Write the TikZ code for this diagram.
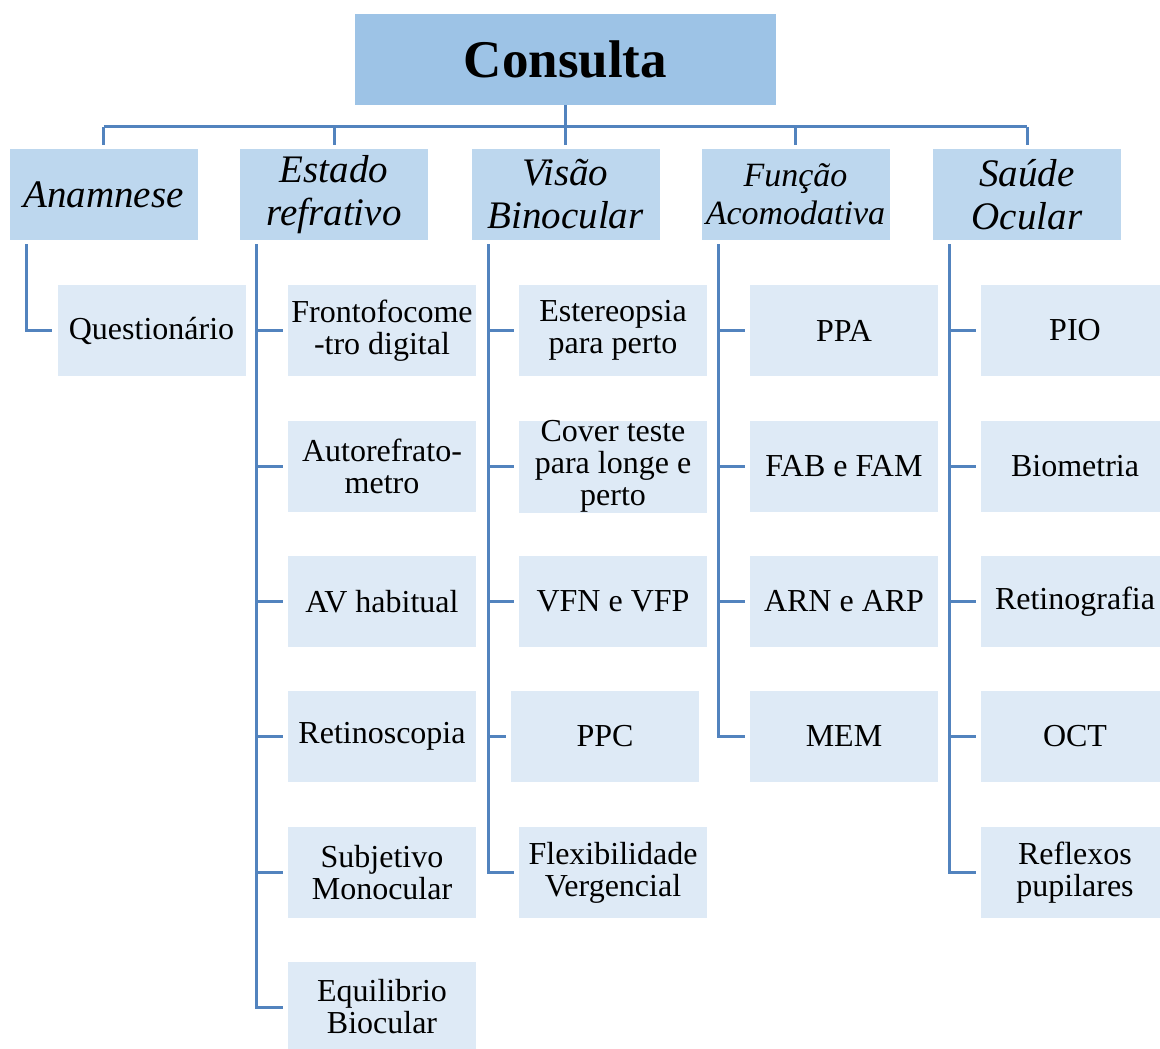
\documentclass[tikz,border=0pt]{standalone}
\usepackage{fontspec}
\IfFontExistsTF{LiberationSerif-Regular.ttf}{%
  \setmainfont{LiberationSerif}[Extension=.ttf, UprightFont=*-Regular,
    BoldFont=*-Bold, ItalicFont=*-Italic, BoldItalicFont=*-BoldItalic]}{}
\usepackage{tikz}
\usetikzlibrary{positioning,calc}

\definecolor{topblue}{HTML}{9DC3E6}
\definecolor{midblue}{HTML}{BDD7EE}
\definecolor{kidblue}{HTML}{DEEAF6}
\definecolor{linkblue}{HTML}{5283BE}

\begin{document}
\begin{tikzpicture}[
  x=0.5pt, y=-0.5pt,
  every node/.style={inner sep=0pt, align=center},
  topbox/.style={fill=topblue, minimum width=210.5pt, minimum height=45.5pt,
                 font=\fontsize{26.5}{28}\selectfont\bfseries},
  lvlbox/.style={fill=midblue, minimum width=94pt, minimum height=45.5pt,
                 font=\fontsize{19.5}{21.5}\selectfont\itshape},
  kidbox/.style={fill=kidblue, minimum width=94pt, minimum height=45.5pt,
                 font=\fontsize{16}{16}\selectfont},
  link/.style={draw=linkblue, line width=1.5pt}]

\useasboundingbox (0,0) rectangle (1160,1048);

%% Top box
\node[topbox] (consulta) at (565.5,59.5) {Consulta};

%% Second level
\node[lvlbox] (anam)   at (103.5,194.5) {Anamnese};
\node[lvlbox] (estado) at (334,194.5)   {Estado\\refrativo};
\node[lvlbox] (visao)  at (565.5,194.5) {Visão\\Binocular};
\node[lvlbox, font=\fontsize{17}{19}\selectfont\itshape]
              (funcao) at (795.5,194.5) {Função\\Acomodativa};
\node[lvlbox] (saude)  at (1027,194.5)  {Saúde\\Ocular};

%% Leaves
\node[kidbox] (a1) at (151.5,330.5) {Questionário};

\node[kidbox] (e1) at (382,330.5)  {Frontofocome\\-tro digital};
\node[kidbox] (e2) at (382,466.5)  {Autorefrato-\\metro};
\node[kidbox] (e3) at (382,601.5)  {AV habitual};
\node[kidbox] (e4) at (382,736.5)  {Retinoscopia};
\node[kidbox] (e5) at (382,872.5)  {Subjetivo\\Monocular};
\node[kidbox] (e6) at (382,1007)   {Equilibrio\\Biocular};

\node[kidbox] (v1) at (613,330.5)  {Estereopsia\\para perto};
\node[kidbox] (v2) at (613,466.5)  {Cover teste\\para longe e\\perto};
\node[kidbox] (v3) at (613,601.5)  {VFN e VFP};
\node[kidbox] (v4) at (605,736.5)  {PPC};
\node[kidbox] (v5) at (613,872.5)  {Flexibilidade\\Vergencial};

\node[kidbox] (f1) at (844,330.5)  {PPA};
\node[kidbox] (f2) at (844,466.5)  {FAB e FAM};
\node[kidbox] (f3) at (844,601.5)  {ARN e ARP};
\node[kidbox] (f4) at (844,736.5)  {MEM};

\node[kidbox] (s1) at (1075,330.5) {PIO};
\node[kidbox] (s2) at (1075,466.5) {Biometria};
\node[kidbox] (s3) at (1075,601.5) {Retinografia};
\node[kidbox] (s4) at (1075,736.5) {OCT};
\node[kidbox] (s5) at (1075,872.5) {Reflexos\\pupilares};

%% Bus under the top box
\coordinate (bus) at (0,127);
\draw[link] (consulta.south) -- (consulta.south |- bus);
\draw[link] (anam.north |- bus) -- (saude.north |- bus);
\foreach \p in {anam,estado,visao,funcao,saude}{
  \draw[link] (\p.north |- bus) -- ([yshift=2pt]\p.north);
}

%% Elbow links, parent to leaves
\foreach \p/\k in {anam/a1,
                   estado/e1,estado/e2,estado/e3,estado/e4,estado/e5,estado/e6,
                   visao/v1,visao/v2,visao/v3,visao/v4,visao/v5,
                   funcao/f1,funcao/f2,funcao/f3,funcao/f4,
                   saude/s1,saude/s2,saude/s3,saude/s4,saude/s5}{
  \draw[link] ([xshift=8.5pt,yshift=-2pt]\p.south west) |- ([xshift=-2.5pt]\k.west);
}
\end{tikzpicture}
\end{document}
